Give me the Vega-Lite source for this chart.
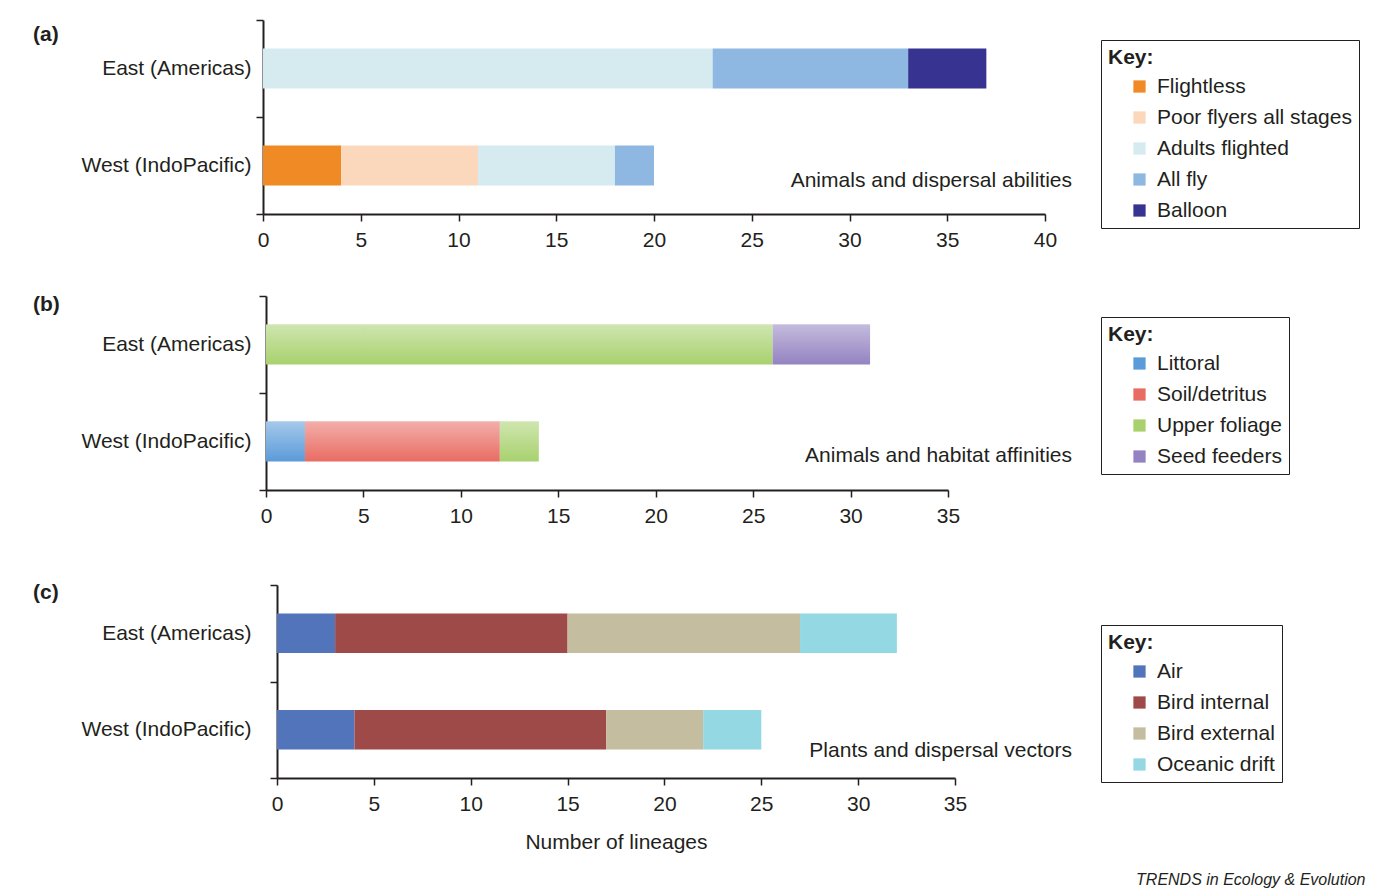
{
  "$schema": "https://vega.github.io/schema/vega-lite/v6.json",
  "padding": {"left": 32, "top": 9, "right": 5, "bottom": 5},
  "background": "white",
  "config": {
    "font": "Liberation Sans",
    "view": {"stroke": null},
    "axis": {"domainColor": "#231f20", "domainWidth": 2, "tickColor": "#231f20", "tickWidth": 1.5, "tickSize": 7, "labelColor": "#231f20", "labelFontSize": 21, "labelFont": "Liberation Sans", "labelFlush": false, "grid": false, "titleColor": "#231f20", "titleFontSize": 21, "titleFontWeight": "normal", "titleFont": "Liberation Sans"},
    "legend": {"titleFontSize": 21, "titleFontWeight": "bold", "titleColor": "#231f20", "labelFontSize": 21, "labelColor": "#231f20", "labelLimit": 0, "symbolType": "square", "symbolSize": 150, "symbolStrokeWidth": 0, "symbolOpacity": 1, "strokeColor": "#231f20", "fillColor": "white", "padding": 7, "rowPadding": 9, "titlePadding": 8, "symbolOffset": 21, "labelOffset": 7, "labelFont": "Liberation Sans", "titleFont": "Liberation Sans"}
  },
  "datasets": {
    "a": [
      {"region": "East (Americas)", "category": "Adults flighted", "lineages": 23},
      {"region": "East (Americas)", "category": "All fly", "lineages": 10},
      {"region": "East (Americas)", "category": "Balloon", "lineages": 4},
      {"region": "West (IndoPacific)", "category": "Flightless", "lineages": 4},
      {"region": "West (IndoPacific)", "category": "Poor flyers all stages", "lineages": 7},
      {"region": "West (IndoPacific)", "category": "Adults flighted", "lineages": 7},
      {"region": "West (IndoPacific)", "category": "All fly", "lineages": 2}
    ],
    "b": [
      {"region": "East (Americas)", "category": "Upper foliage", "lineages": 26},
      {"region": "East (Americas)", "category": "Seed feeders", "lineages": 5},
      {"region": "West (IndoPacific)", "category": "Littoral", "lineages": 2},
      {"region": "West (IndoPacific)", "category": "Soil/detritus", "lineages": 10},
      {"region": "West (IndoPacific)", "category": "Upper foliage", "lineages": 2}
    ],
    "c": [
      {"region": "East (Americas)", "category": "Air", "lineages": 3},
      {"region": "East (Americas)", "category": "Bird internal", "lineages": 12},
      {"region": "East (Americas)", "category": "Bird external", "lineages": 12},
      {"region": "East (Americas)", "category": "Oceanic drift", "lineages": 5},
      {"region": "West (IndoPacific)", "category": "Air", "lineages": 4},
      {"region": "West (IndoPacific)", "category": "Bird internal", "lineages": 13},
      {"region": "West (IndoPacific)", "category": "Bird external", "lineages": 5},
      {"region": "West (IndoPacific)", "category": "Oceanic drift", "lineages": 3}
    ],
    "blank": [{"label": ""}]
  },
  "spacing": 35,
  "resolve": {"scale": {"color": "independent"}},
  "title": {"text": "TRENDS in Ecology & Evolution", "orient": "bottom", "anchor": "end", "dx": 6, "fontSize": 16, "fontStyle": "italic", "fontWeight": "normal", "color": "#231f20", "offset": 20},
  "vconcat": [
    {
      "spacing": 0,
      "hconcat": [
        {"width": 1, "height": 1, "data": {"name": "blank"}, "mark": {"type": "text", "opacity": 0}, "encoding": {"text": {"field": "label"}}},
        {
          "width": 782, "height": 194,
          "layer": [
            {
              "data": {"name": "a"},
              "transform": [{"window": [{"op": "row_number", "as": "rank"}], "groupby": ["region"]}],
              "mark": {"type": "bar", "height": {"band": 0.41}},
              "encoding": {
                "y": {"field": "region", "type": "nominal", "scale": {"paddingInner": 0, "paddingOuter": 0}, "axis": {"title": null, "tickBand": "extent", "labelPadding": 5}},
                "x": {"field": "lineages", "type": "quantitative", "stack": "zero", "scale": {"domain": [0, 40], "nice": false}, "axis": {"title": null, "tickCount": 8, "labelPadding": 8}},
                "order": {"field": "rank", "type": "quantitative"},
                "color": {"field": "category", "type": "nominal", "sort": ["Flightless", "Poor flyers all stages", "Adults flighted", "All fly", "Balloon"], "scale": {"domain": ["Flightless", "Poor flyers all stages", "Adults flighted", "All fly", "Balloon"], "range": ["#ef8a25", "#fbd7bb", "#d6ebf0", "#8eb8e1", "#363391"]}, "legend": {"title": "Key:", "orient": "none", "legendX": 1069, "legendY": 20}}
              }
            },
            {
              "data": {"values": [{"label": "Animals and dispersal abilities"}]},
              "mark": {"type": "text", "align": "right", "baseline": "middle", "dx": 27, "dy": 15, "fontSize": 21, "color": "#231f20"},
              "encoding": {"x": {"datum": 40}, "y": {"datum": "West (IndoPacific)"}, "text": {"field": "label"}}
            },
            {
              "data": {"values": [{"label": "(a)"}]},
              "mark": {"type": "text", "align": "left", "baseline": "middle", "dx": -230, "dy": -34, "fontSize": 21, "fontWeight": "bold", "color": "#231f20"},
              "encoding": {"x": {"datum": 0}, "y": {"datum": "East (Americas)"}, "text": {"field": "label"}}
            }
          ]
        }
      ]
    },
    {
      "spacing": 0,
      "hconcat": [
        {"width": 1, "height": 1, "data": {"name": "blank"}, "mark": {"type": "text", "opacity": 0}, "encoding": {"text": {"field": "label"}}},
        {
          "width": 682, "height": 194,
          "layer": [
            {
              "data": {"name": "b"},
              "transform": [{"window": [{"op": "row_number", "as": "rank"}], "groupby": ["region"]}],
              "mark": {"type": "bar", "height": {"band": 0.41}},
              "encoding": {
                "y": {"field": "region", "type": "nominal", "scale": {"paddingInner": 0, "paddingOuter": 0}, "axis": {"title": null, "tickBand": "extent", "labelPadding": 8}},
                "x": {"field": "lineages", "type": "quantitative", "stack": "zero", "scale": {"domain": [0, 35], "nice": false}, "axis": {"title": " ", "titleFontSize": 13, "titlePadding": 0, "tickCount": 7, "labelPadding": 8}},
                "order": {"field": "rank", "type": "quantitative"},
                "color": {"field": "category", "type": "nominal", "sort": ["Littoral", "Soil/detritus", "Upper foliage", "Seed feeders"], "scale": {"domain": ["Littoral", "Soil/detritus", "Upper foliage", "Seed feeders"], "range": ["#5b9bd9", "#e96c63", "#a8d16e", "#9483c1"]}, "legend": {"title": "Key:", "orient": "none", "legendX": 1069, "legendY": 21}}
              }
            },
            {
              "data": {"name": "b"},
              "mark": {"type": "bar", "height": {"band": 0.41}, "fill": {"gradient": "linear", "x1": 0, "y1": 0, "x2": 0, "y2": 1, "stops": [{"offset": 0, "color": "rgba(255,255,255,0.45)"}, {"offset": 1, "color": "rgba(255,255,255,0)"}]}},
              "encoding": {
                "y": {"field": "region", "type": "nominal"},
                "x": {"field": "lineages", "type": "quantitative", "stack": "zero"},
                "detail": {"field": "category"}
              }
            },
            {
              "data": {"values": [{"label": "Animals and habitat affinities"}]},
              "mark": {"type": "text", "align": "right", "baseline": "middle", "dx": 124, "dy": 14, "fontSize": 21, "color": "#231f20"},
              "encoding": {"x": {"datum": 35}, "y": {"datum": "West (IndoPacific)"}, "text": {"field": "label"}}
            },
            {
              "data": {"values": [{"label": "(b)"}]},
              "mark": {"type": "text", "align": "left", "baseline": "middle", "dx": -233, "dy": -40, "fontSize": 21, "fontWeight": "bold", "color": "#231f20"},
              "encoding": {"x": {"datum": 0}, "y": {"datum": "East (Americas)"}, "text": {"field": "label"}}
            }
          ]
        }
      ]
    },
    {
      "spacing": 0,
      "hconcat": [
        {"width": 1, "height": 1, "data": {"name": "blank"}, "mark": {"type": "text", "opacity": 0}, "encoding": {"text": {"field": "label"}}},
        {
          "width": 678, "height": 193,
          "layer": [
            {
              "data": {"name": "c"},
              "transform": [{"window": [{"op": "row_number", "as": "rank"}], "groupby": ["region"]}],
              "mark": {"type": "bar", "height": {"band": 0.41}},
              "encoding": {
                "y": {"field": "region", "type": "nominal", "scale": {"paddingInner": 0, "paddingOuter": 0}, "axis": {"title": null, "tickBand": "extent", "labelPadding": 19}},
                "x": {"field": "lineages", "type": "quantitative", "stack": "zero", "scale": {"domain": [0, 35], "nice": false}, "axis": {"title": "Number of lineages", "tickCount": 7, "labelPadding": 8, "titlePadding": 17}},
                "order": {"field": "rank", "type": "quantitative"},
                "color": {"field": "category", "type": "nominal", "sort": ["Air", "Bird internal", "Bird external", "Oceanic drift"], "scale": {"domain": ["Air", "Bird internal", "Bird external", "Oceanic drift"], "range": ["#5174bb", "#9e4a49", "#c5bd9f", "#93d8e2"]}, "legend": {"title": "Key:", "orient": "none", "legendX": 1069, "legendY": 40}}
              }
            },
            {
              "data": {"values": [{"label": "Plants and dispersal vectors"}]},
              "mark": {"type": "text", "align": "right", "baseline": "middle", "dx": 117, "dy": 21, "fontSize": 21, "color": "#231f20"},
              "encoding": {"x": {"datum": 35}, "y": {"datum": "West (IndoPacific)"}, "text": {"field": "label"}}
            },
            {
              "data": {"values": [{"label": "(c)"}]},
              "mark": {"type": "text", "align": "left", "baseline": "middle", "dx": -244, "dy": -40, "fontSize": 21, "fontWeight": "bold", "color": "#231f20"},
              "encoding": {"x": {"datum": 0}, "y": {"datum": "East (Americas)"}, "text": {"field": "label"}}
            }
          ]
        }
      ]
    }
  ]
}
